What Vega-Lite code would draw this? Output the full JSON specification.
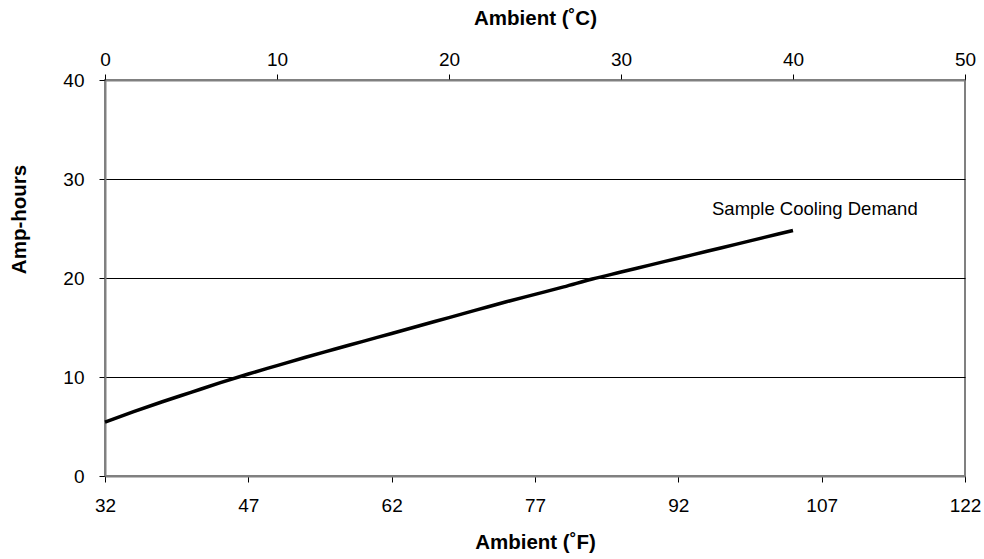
{
  "$schema": "https://vega.github.io/schema/vega-lite/v6.json",
  "autosize": {"type": "none"},
  "width": 860,
  "height": 396,
  "padding": {"left": 105, "top": 80, "right": 19, "bottom": 83},
  "background": "white",
  "config": {
    "font": "Liberation Sans",
    "view": {"stroke": "#808080", "strokeWidth": 2},
    "axis": {
      "labelFont": "Liberation Sans",
      "titleFont": "Liberation Sans",
      "labelFontSize": 19,
      "titleFontSize": 20.5,
      "titleFontWeight": "bold",
      "labelColor": "black",
      "titleColor": "black",
      "domainColor": "#808080",
      "domainWidth": 2,
      "tickColor": "black",
      "tickWidth": 1,
      "tickSize": 6
    }
  },
  "datasets": {
    "demand": [
      {"F": 32, "amp": 5.45},
      {"F": 35, "amp": 6.5},
      {"F": 38, "amp": 7.5},
      {"F": 41, "amp": 8.45},
      {"F": 44, "amp": 9.4},
      {"F": 47, "amp": 10.3},
      {"F": 50, "amp": 11.15},
      {"F": 53, "amp": 12.0},
      {"F": 56, "amp": 12.8},
      {"F": 59, "amp": 13.6},
      {"F": 62, "amp": 14.4},
      {"F": 65, "amp": 15.2},
      {"F": 68, "amp": 16.0},
      {"F": 71, "amp": 16.8},
      {"F": 74, "amp": 17.6},
      {"F": 77, "amp": 18.35},
      {"F": 80, "amp": 19.1},
      {"F": 83, "amp": 19.9},
      {"F": 86, "amp": 20.6},
      {"F": 89, "amp": 21.3},
      {"F": 92, "amp": 22.0},
      {"F": 95, "amp": 22.7},
      {"F": 98, "amp": 23.4},
      {"F": 101, "amp": 24.1},
      {"F": 104, "amp": 24.8}
    ],
    "celsius": [
      {"C": 0},
      {"C": 50}
    ]
  },
  "layer": [
    {
      "data": {"name": "demand"},
      "encoding": {
        "x": {
          "field": "F", "type": "quantitative",
          "scale": {"domain": [32, 122], "nice": false, "zero": false},
          "axis": {
            "orient": "bottom",
            "title": "Ambient (˚F)",
            "values": [32, 47, 62, 77, 92, 107, 122],
            "grid": false,
            "labelFlush": false,
            "labelPadding": 14,
            "titlePadding": 17
          }
        },
        "y": {
          "field": "amp", "type": "quantitative",
          "scale": {"domain": [0, 40], "nice": false},
          "axis": {
            "title": "Amp-hours",
            "values": [0, 10, 20, 30, 40],
            "grid": true,
            "gridColor": "black",
            "gridWidth": 1,
            "gridOpacity": {"condition": {"test": "datum.value == 0 || datum.value == 40", "value": 0}, "value": 1},
            "labelFlush": false,
            "labelPadding": 15,
            "titleAngle": -90,
            "titleX": -86,
            "titleY": 139,
            "titleAlign": "center",
            "titleBaseline": "middle"
          }
        }
      },
      "layer": [
        {
          "mark": {"type": "line", "color": "black", "strokeWidth": 3.5, "interpolate": "monotone"}
        },
        {
          "transform": [{"filter": "datum.F == 104"}],
          "mark": {"type": "text", "text": "Sample Cooling Demand", "align": "left", "baseline": "middle", "dx": -81, "dy": -21, "fontSize": 18.5, "font": "Liberation Sans", "color": "black"}
        }
      ]
    },
    {
      "data": {"name": "celsius"},
      "mark": {"type": "point", "opacity": 0},
      "encoding": {
        "x": {
          "field": "C", "type": "quantitative",
          "scale": {"domain": [0, 50], "nice": false, "zero": false},
          "axis": {
            "orient": "top",
            "title": "Ambient (˚C)",
            "values": [0, 10, 20, 30, 40, 50],
            "grid": false,
            "labelFlush": false,
            "labelPadding": 5,
            "titlePadding": 22
          }
        }
      }
    }
  ],
  "resolve": {"scale": {"x": "independent"}, "axis": {"x": "independent"}}
}
